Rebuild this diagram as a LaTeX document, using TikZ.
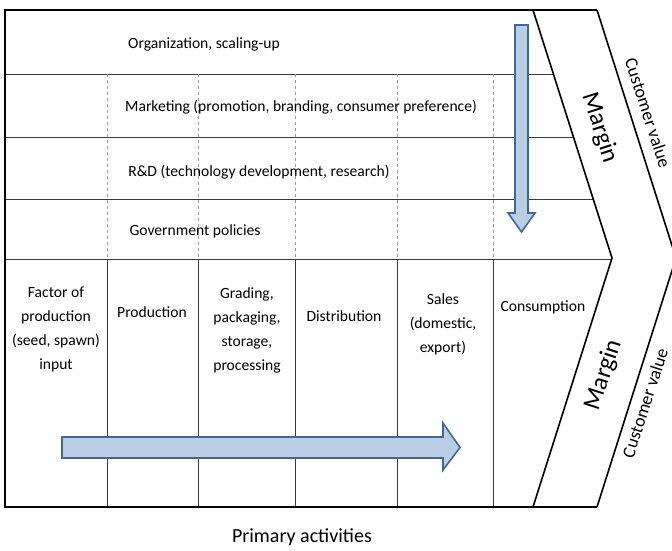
\documentclass[tikz,border=0pt]{standalone}
\usepackage{fontspec}
\setmainfont{Carlito}
\definecolor{arrowfill}{HTML}{B9CDE5}
\definecolor{arrowline}{HTML}{41669A}
\definecolor{gridline}{HTML}{3A3A3A}
\definecolor{dashline}{HTML}{9A9A9A}
\begin{document}
\begin{tikzpicture}[x=1pt,y=-1pt,
	cell/.style={font=\fontsize{15.6}{24}\selectfont, align=center, inner sep=0pt},
	bigtext/.style={font=\fontsize{20}{24}\selectfont, inner sep=0pt},
	margintext/.style={font=\fontsize{25}{28}\selectfont, inner sep=0pt},
	bandtext/.style={font=\fontsize{18}{20}\selectfont, inner sep=0pt},
	blockarrow/.style={draw=arrowline, fill=arrowfill, line width=1.6pt, line join=miter}]
		\useasboundingbox (0,0) rectangle (672,550);
		% support rows
		\draw [gridline, line width=0.8pt] (5,74) -- (553.4,74);
		\draw [gridline, line width=0.8pt] (5,137) -- (573.5,137);
		\draw [gridline, line width=0.8pt] (5,199) -- (593.2,199);
		\draw [gridline, line width=0.8pt] (5,259) -- (612,259);
		\foreach \x in {107,198,295,397,493} {
			\draw [dashline, dashed, line width=0.7pt] (\x,74) -- (\x,259);
			\draw [gridline, line width=0.8pt] (\x,259) -- (\x,507);
		}
		% frame and chevrons
		\draw [line width=2.6pt] (597,10) -- (5,10) -- (5,507) -- (597,507);
		\draw [line width=1.6pt] (533,10) -- (612,258) -- (533,507);
		\draw [line width=1.6pt] (597,10) -- (676,258) -- (597,507);
		\node [cell] (org) at (204,44) {Organization, scaling-up};
		\node [cell] (mkt) at (301,107) {Marketing (promotion, branding, consumer preference)};
		\node [cell] (rnd) at (259,172) {R\&D (technology development, research)};
		\node [cell] (gov) at (195,231) {Government policies};
		\node [cell, anchor=north] (factor) at (56,287) {Factor of\\production\\(seed, spawn)\\input};
		\node [cell] (prod) at (152,312) {Production};
		\node [cell, anchor=north] (grade) at (247,287) {Grading,\\packaging,\\storage,\\processing};
		\node [cell] (dist) at (344,316) {Distribution};
		\node [cell, anchor=north] (sales) at (443,293) {Sales\\(domestic,\\export)};
		\node [cell] (cons) at (543,307) {Consumption};
		\node [margintext, rotate=-72] (margintop) at (600,128) {Margin};
		\node [bandtext, rotate=-72] (valuetop) at (648,113) {Customer value};
		\node [margintext, rotate=72] (marginbot) at (604,375) {Margin};
		\node [bandtext, rotate=72] (valuebot) at (645,403) {Customer value};
		\node [bigtext] (primary) at (302,537) {Primary activities};
		% flow arrows
		\draw [blockarrow] (62,437) -- (443,437) -- (443,423) -- (460,447.5) -- (443,470) -- (443,458) -- (62,458) -- cycle;
		\draw [blockarrow] (515,25) -- (528,25) -- (528,213) -- (535,213) -- (521.5,232) -- (508,213) -- (515,213) -- cycle;
	\end{tikzpicture}
\end{document}
